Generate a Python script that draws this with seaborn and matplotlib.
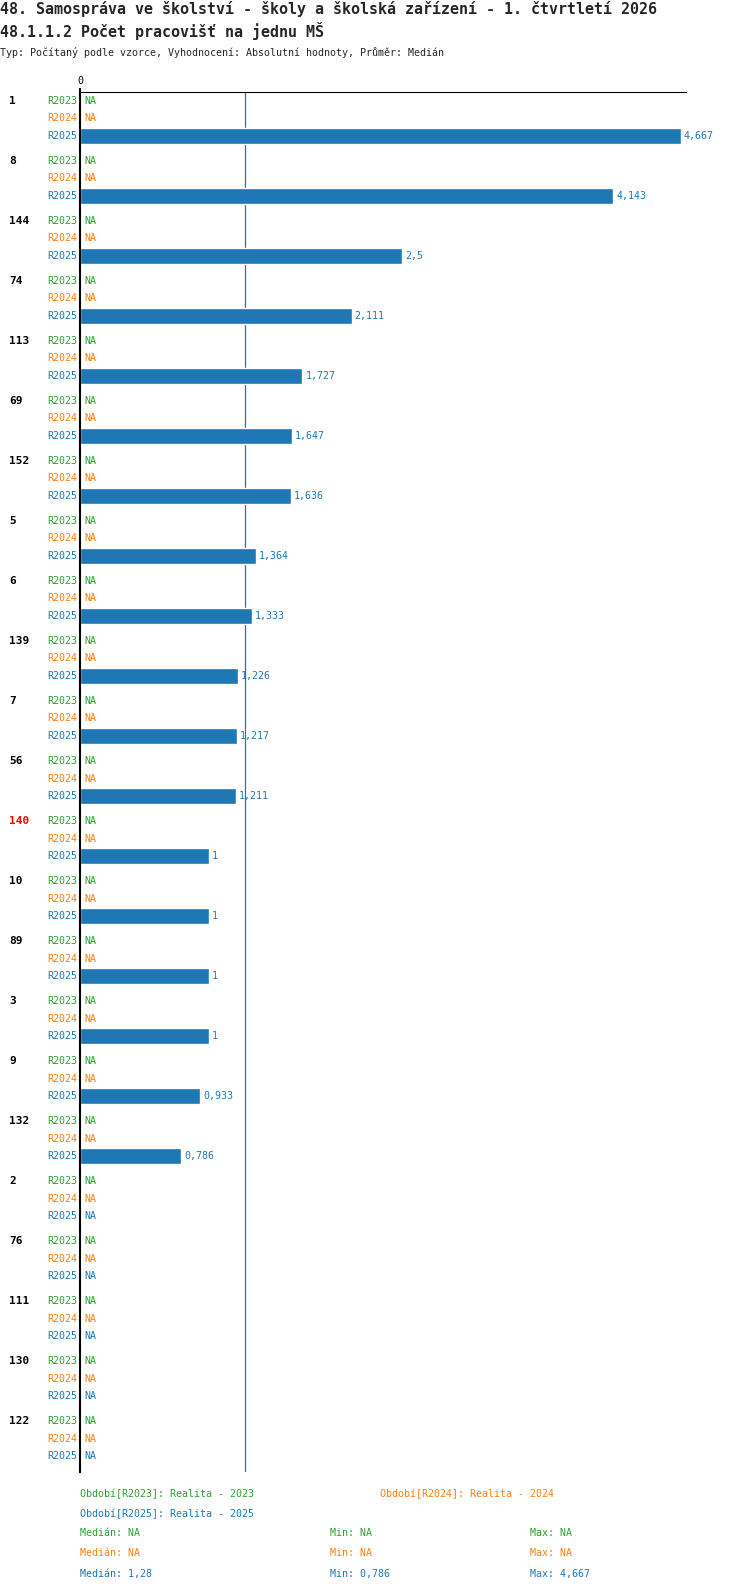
import pandas as pd
import matplotlib
matplotlib.use("Agg")
import matplotlib.pyplot as plt
import numpy as np
import seaborn as sns

# data
skupiny = ['1', '8', '144', '74', '113', '69', '152', '5', '6', '139', '7', '56',
           '140', '10', '89', '3', '9', '132', '2', '76', '111', '130', '122']
r2023 = [np.nan] * 23
r2024 = [np.nan] * 23
r2025 = [4.667, 4.143, 2.5, 2.111, 1.727, 1.647, 1.636, 1.364, 1.333, 1.226,
         1.217, 1.211, 1, 1, 1, 1, 0.933, 0.786,
         np.nan, np.nan, np.nan, np.nan, np.nan]
obdobi = ['R2023', 'R2024', 'R2025']
popisky_obdobi = ['Realita - 2023', 'Realita - 2024', 'Realita - 2025']
zvyraznene = ['140']
median_r2025 = 1.28

barvy = ['#2ca02c', '#ff7f0e', '#1f77b4']

sns.set_style("white")
plt.rcParams['font.family'] = ['DejaVu Sans Mono', 'DejaVu Sans']

W, H = 750, 1592
fig = plt.figure(figsize=(W / 100, H / 100), dpi=100)


def fy(px):
    return 1 - px / H


def fx(px):
    return px / W


# titulky
fig.text(0, fy(9), '48. Samospráva ve školství - školy a školská zařízení - 1. čtvrtletí 2026',
         fontsize=10.8, fontweight='bold', va='center', ha='left')
fig.text(0, fy(31), '48.1.1.2 Počet pracovišť na jednu MŠ',
         fontsize=10.8, fontweight='bold', va='center', ha='left')
fig.text(0, fy(52), 'Typ: Počítaný podle vzorce, Vyhodnocení: Absolutní hodnoty, Průměr: Medián',
         fontsize=7.2, va='center', ha='left')

ax_left, ax_right, ax_top, ax_bottom = 80, 686, 92, 1472
ax = fig.add_axes([fx(ax_left), fy(ax_bottom), (ax_right - ax_left) / W, (ax_bottom - ax_top) / H])

krok_skupiny = 3.43
pozice = {o: [g * krok_skupiny + i for g in range(len(skupiny))] for i, o in enumerate(obdobi)}
hodnoty = {'R2023': r2023, 'R2024': r2024, 'R2025': r2025}

df = pd.DataFrame({'pos': pozice['R2025'], 'val': r2025}).dropna()
sns.barplot(data=df, x='val', y='pos', orient='h', native_scale=True,
            width=0.914 / krok_skupiny, color=barvy[2], saturation=1,
            errorbar=None, ax=ax, zorder=2)

x_max = (ax_right - ax_left) / 128.7
ax.set_xlim(0, x_max)
ax.set_ylim(22 * krok_skupiny + 2 + 0.914, -0.514)

ax.axvline(median_r2025, color=barvy[2], lw=0.9, zorder=1)

# popisky
ytr = ax.get_yaxis_transform()
for g, sk in enumerate(skupiny):
    ax.text(-71 / 606, g * krok_skupiny, sk, transform=ytr, fontsize=8, fontweight='bold',
            color='red' if sk in zvyraznene else 'black', va='center', ha='left')
    for i, o in enumerate(obdobi):
        y = pozice[o][g]
        v = hodnoty[o][g]
        ax.text(-3 / 606, y, o, transform=ytr, fontsize=7.2, color=barvy[i],
                va='center', ha='right', clip_on=False)
        if np.isnan(v):
            ax.text(4 / 606, y, 'NA', transform=ytr, fontsize=7.2, color=barvy[i],
                    va='center', ha='left')
        else:
            s = f"{v:.3f}".rstrip('0').rstrip('.').replace('.', ',')
            ax.annotate(s, xy=(v, y), xytext=(2.2, 0), textcoords='offset points',
                        fontsize=7.2, color=barvy[i], va='center', ha='left')

ax.set_ylabel('')
ax.set_xlabel('')
ax.set_yticks([])
ax.xaxis.tick_top()
ax.set_xticks([0])
ax.set_xticklabels(['0'])
ax.tick_params(axis='x', length=3, width=1.4, pad=1, labelsize=7.2, colors='black')
for side in ['right', 'bottom']:
    ax.spines[side].set_visible(False)
ax.spines['top'].set_linewidth(0.8)
ax.spines['top'].set_color('black')
ax.spines['left'].set_linewidth(1.5)
ax.spines['left'].set_color('black')
ax.grid(False)

# legenda a souhrn
fig.text(fx(80), fy(1494), f'Období[{obdobi[0]}]: {popisky_obdobi[0]}', color=barvy[0],
         fontsize=7.2, va='center')
fig.text(fx(380), fy(1494), f'Období[{obdobi[1]}]: {popisky_obdobi[1]}', color=barvy[1],
         fontsize=7.2, va='center')
fig.text(fx(80), fy(1514), f'Období[{obdobi[2]}]: {popisky_obdobi[2]}', color=barvy[2],
         fontsize=7.2, va='center')


def fmt(v):
    if np.all(np.isnan(v)):
        return 'NA'
    return f"{v:.3f}".rstrip('0').rstrip('.').replace('.', ',')


for i, o in enumerate(obdobi):
    arr = np.array(hodnoty[o], dtype=float)
    ok = arr[~np.isnan(arr)]
    med = fmt(np.median(ok)) if len(ok) else 'NA'
    mn = fmt(ok.min()) if len(ok) else 'NA'
    mx = fmt(ok.max()) if len(ok) else 'NA'
    y = fy(1533 + i * 20.5)
    fig.text(fx(80), y, f'Medián: {med}', color=barvy[i], fontsize=7.2, va='center')
    fig.text(fx(330), y, f'Min: {mn}', color=barvy[i], fontsize=7.2, va='center')
    fig.text(fx(530), y, f'Max: {mx}', color=barvy[i], fontsize=7.2, va='center')

fig.savefig('out.png', dpi=100)
